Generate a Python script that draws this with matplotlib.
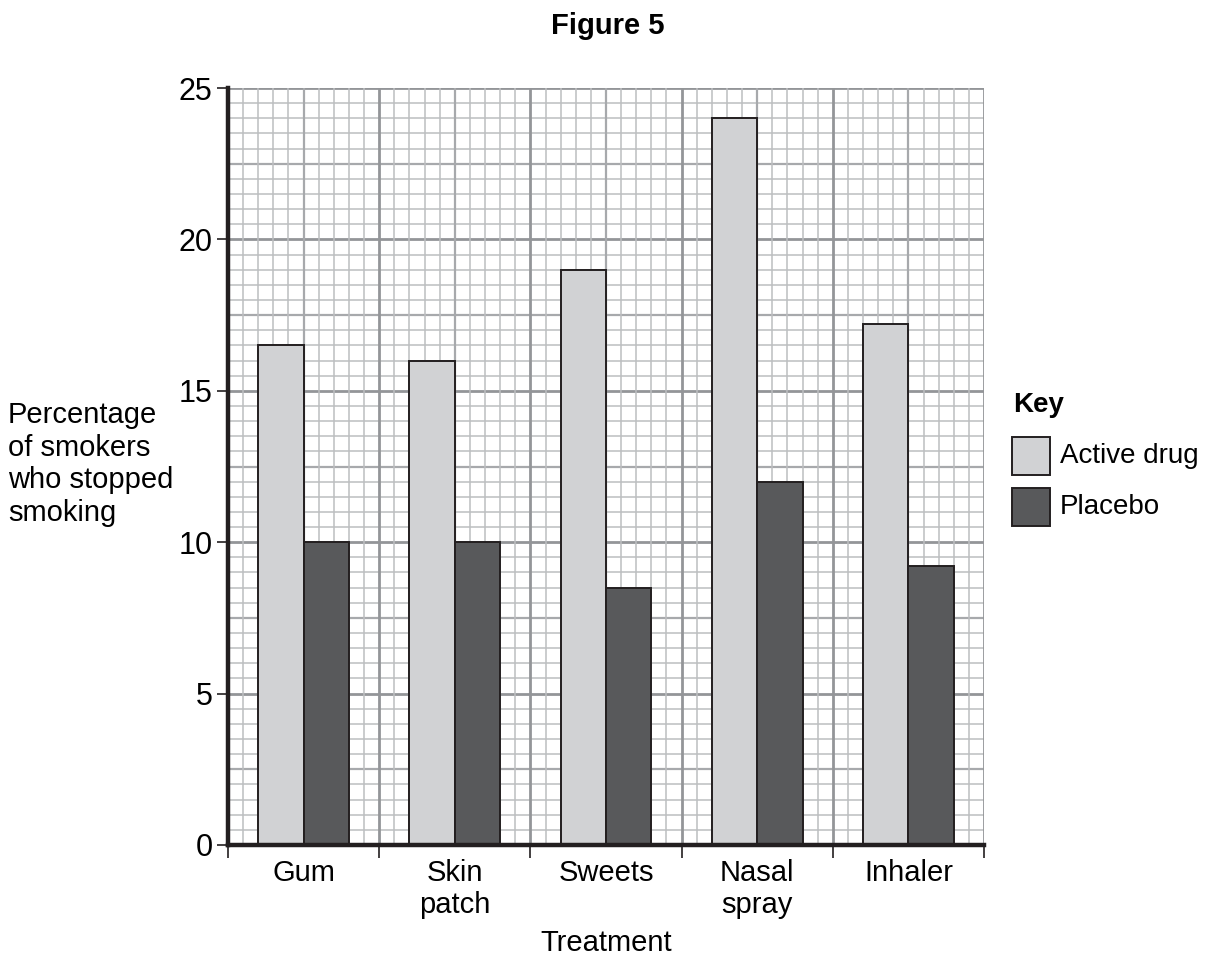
import matplotlib
matplotlib.use("Agg")
import matplotlib.pyplot as plt
from matplotlib.patches import Rectangle
import numpy as np

categories = ["Gum", "Skin\npatch", "Sweets", "Nasal\nspray", "Inhaler"]
active_drug = [16.5, 16.0, 19.0, 24.0, 17.2]
placebo = [10.0, 10.0, 8.5, 12.0, 9.2]
series_names = ["Active drug", "Placebo"]
y_ticks = [0, 5, 10, 15, 20, 25]

plt.rcParams['font.family'] = ['Liberation Sans', 'DejaVu Sans']

C_ACTIVE = "#D1D2D4"
C_PLACEBO = "#58595B"
C_EDGE = "#231F20"
FS = 21

fig = plt.figure(figsize=(12.16, 9.6), dpi=100)
ax = fig.add_axes([228/1216, 1-845/960, (984-228)/1216, (845-88)/960])

n = len(categories)
ax.set_xlim(-0.5, n - 0.5)
ax.set_ylim(0, 25)

# graph-paper grid
for v in np.arange(0, 25.01, 0.5):
    if abs(v % 5) < 1e-9:
        c, lw = "#939598", 2.0
    elif abs(v % 2.5) < 1e-9:
        c, lw = "#A7A9AC", 1.6
    else:
        c, lw = "#BCBEC0", 1.1
    ax.axhline(v, color=c, lw=lw, zorder=0)
for xv in np.arange(-0.5, n - 0.5 + 1e-9, 0.1):
    rel = (xv + 0.5) % 1.0
    if min(rel, 1 - rel) < 1e-6:
        c, lw = "#939598", 2.0
    elif abs(rel - 0.5) < 1e-6:
        c, lw = "#A7A9AC", 1.6
    else:
        c, lw = "#BCBEC0", 1.1
    ax.axvline(xv, color=c, lw=lw, zorder=0)

x = np.arange(n)
w = 0.3
ax.bar(x - w/2, active_drug, w, color=C_ACTIVE, edgecolor=C_EDGE, linewidth=1.4, zorder=3, label=series_names[0])
ax.bar(x + w/2, placebo, w, color=C_PLACEBO, edgecolor=C_EDGE, linewidth=1.4, zorder=3, label=series_names[1])

for s in ["top", "right"]:
    ax.spines[s].set_visible(False)
for s in ["left", "bottom"]:
    ax.spines[s].set_linewidth(3.2)
    ax.spines[s].set_color("#231F20")
    ax.spines[s].set_zorder(5)

ax.set_yticks(y_ticks)
ax.set_yticklabels([str(t) for t in y_ticks], fontsize=22)
ax.tick_params(axis="y", length=8, width=1.2, pad=3, color="#231F20")

ax.set_xticks(np.arange(-0.5, n, 1.0))
ax.set_xticklabels([])
ax.tick_params(axis="x", which="major", length=9, width=1.2, color="#231F20")
ax.set_xticks(x, minor=True)
ax.set_xticklabels(categories, minor=True, fontsize=FS, linespacing=1.2)
ax.tick_params(axis="x", which="minor", length=0, pad=10)

ax.set_xlabel("Treatment", fontsize=FS, va="center")
ax.xaxis.set_label_coords(0.5, -(943 - 845) / 757)

fig.text(608/1216, 1-26/960, "Figure 5", fontsize=FS, fontweight="bold", ha="center", va="center")

fig.text(8/1216, 1-464/960, "Percentage\nof smokers\nwho stopped\nsmoking", fontsize=FS,
         ha="left", va="center", linespacing=1.2)

# key
fig.text(1013/1216, 1-405/960, "Key", fontsize=20, fontweight="bold", ha="left", va="center")
for i, (name, col) in enumerate(zip(series_names, [C_ACTIVE, C_PLACEBO])):
    y0 = 437 + i * 51
    fig.add_artist(Rectangle((1012/1216, 1-(y0+38)/960), 38/1216, 38/960,
                             transform=fig.transFigure, facecolor=col, edgecolor=C_EDGE, lw=1.4))
    fig.text(1060/1216, 1-(y0+19)/960, name, fontsize=20, ha="left", va="center")

fig.savefig("out.png", dpi=100)
